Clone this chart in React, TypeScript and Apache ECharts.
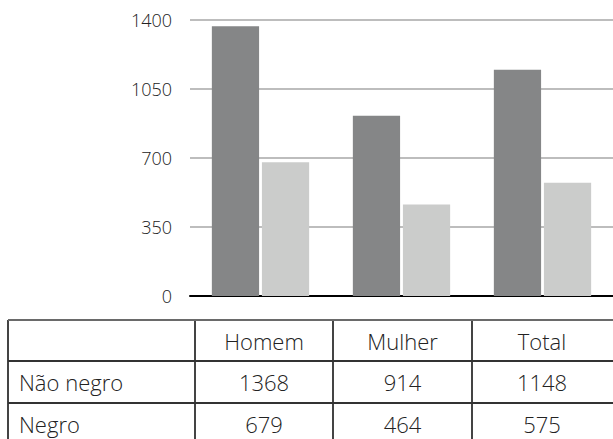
import React, { useEffect, useRef } from "react";
import * as echarts from "echarts";

const categories = ["Homem", "Mulher", "Total"];
const seriesNames = ["Não negro", "Negro"];
const naoNegro = [1368, 914, 1148];
const negro = [679, 464, 575];
const yTicks = { min: 0, max: 1400, interval: 350 };

const FONT = "'Open Sans', 'Noto Sans', sans-serif";
const TEXT = "#222";

export default function App() {
  const ref = useRef<HTMLDivElement>(null);
  useEffect(() => {
    if (!ref.current) return;
    const chart = echarts.init(ref.current, undefined, { renderer: "svg" });

    // table geometry
    const colX = [8, 195, 333, 472];
    const rightX = 620;
    const rowY = [320, 361, 403, 445];
    const graphics: any[] = [];
    colX.forEach((x) =>
      graphics.push({
        type: "line",
        shape: { x1: x, y1: rowY[0], x2: x, y2: rowY[3] },
        style: { stroke: "#444", lineWidth: 2 },
      })
    );
    rowY.forEach((y, i) =>
      graphics.push({
        type: "line",
        shape: { x1: colX[0], y1: y, x2: rightX, y2: y },
        style: { stroke: i === 0 ? "#6a6a6a" : "#333", lineWidth: 2 },
      })
    );
    const rows = [naoNegro, negro];
    const font = `300 22px ${FONT}`;
    const colCenter = (i: number) => (colX[i + 1] + (i + 2 < colX.length ? colX[i + 2] : 612)) / 2;
    categories.forEach((c, i) => {
      graphics.push({
        type: "text",
        x: colCenter(i),
        y: (rowY[0] + rowY[1]) / 2,
        style: { text: c, fill: TEXT, font, textAlign: "center", textVerticalAlign: "middle" },
      });
    });
    rows.forEach((vals, r) => {
      const cy = (rowY[r + 1] + rowY[r + 2]) / 2;
      graphics.push({
        type: "text",
        x: 19,
        y: cy,
        style: { text: seriesNames[r], fill: TEXT, font, textAlign: "left", textVerticalAlign: "middle" },
      });
      vals.forEach((v, i) => {
        graphics.push({
          type: "text",
          x: colCenter(i),
          y: cy,
          style: { text: String(v), fill: TEXT, font, textAlign: "center", textVerticalAlign: "middle" },
        });
      });
    });

    chart.setOption({
      animation: false,
      backgroundColor: "#ffffff",
      textStyle: { fontFamily: FONT },
      grid: { left: 190, top: 20, width: 428, height: 276 },
      xAxis: {
        type: "category",
        data: categories,
        axisLine: { lineStyle: { color: "#000", width: 2 } },
        axisTick: { show: false },
        axisLabel: { show: false },
      },
      yAxis: {
        type: "value",
        min: yTicks.min,
        max: yTicks.max,
        interval: yTicks.interval,
        axisLine: { show: false },
        axisTick: { show: false },
        axisLabel: {
          color: TEXT,
          fontSize: 18,
          fontWeight: 300,
          margin: 18,
          fontFamily: FONT,
          formatter: (v: number) => String(v),
        },
        splitLine: { lineStyle: { color: "#bdbdbd", width: 2 } },
      },
      series: [
        {
          name: seriesNames[0],
          type: "bar",
          data: naoNegro,
          itemStyle: { color: "#858687" },
          barCategoryGap: "31%",
          barGap: "6%",
        },
        {
          name: seriesNames[1],
          type: "bar",
          data: negro,
          itemStyle: { color: "#cbcccb" },
        },
      ],
      graphic: graphics,
    });
    return () => chart.dispose();
  }, []);
  return (
    <div
      ref={ref}
      style={{ position: "fixed", left: 0, top: 0, width: 613, height: 439, background: "#fff" }}
    />
  );
}
